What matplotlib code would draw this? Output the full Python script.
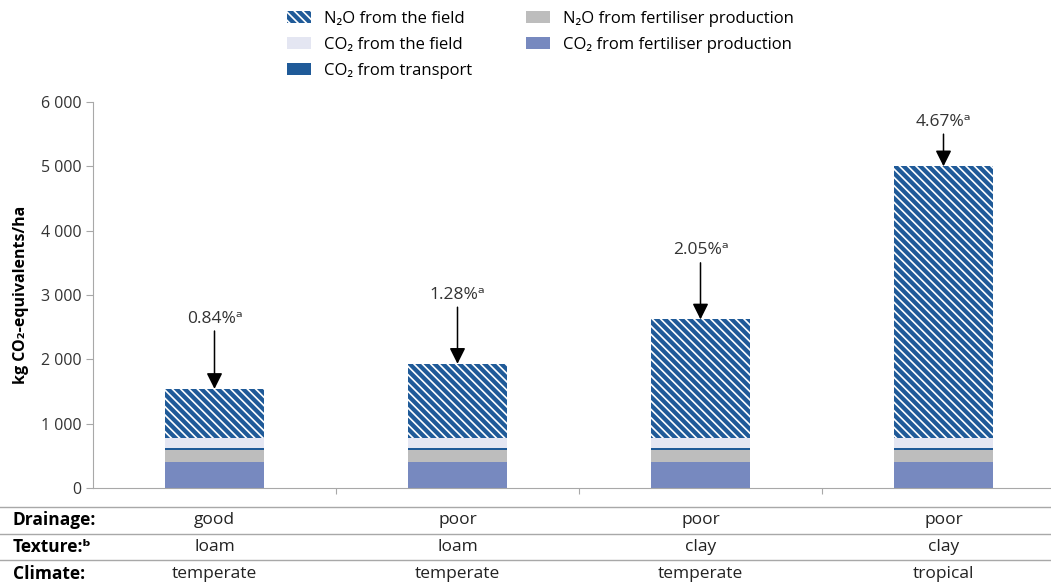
import matplotlib
matplotlib.use("Agg")
import matplotlib.pyplot as plt
import matplotlib.transforms as mtransforms
import numpy as np

# --- data ---
co2_fert = [400, 400, 400, 400]
n2o_fert = [190, 190, 190, 190]
co2_transport = [30, 30, 30, 30]
co2_field = [150, 150, 150, 150]
n2o_field = [770, 1160, 1850, 4230]
pct_labels = ["0.84%ᵃ", "1.28%ᵃ", "2.05%ᵃ", "4.67%ᵃ"]
drainage = ["good", "poor", "poor", "poor"]
texture = ["loam", "loam", "clay", "clay"]
climate = ["temperate", "temperate", "temperate", "tropical"]
yticks = [0, 1000, 2000, 3000, 4000, 5000, 6000]

plt.rcParams['font.family'] = ['Open Sans', 'DejaVu Sans']
plt.rcParams['font.size'] = 11
plt.rcParams['hatch.linewidth'] = 1.2

c_co2_fert = '#7789bf'
c_n2o_fert = '#bdbdbd'
c_transport = '#1f5a98'
c_co2_field = '#e4e6f2'
c_n2o_field = '#1f5a98'
grey = '#a8a8a8'

fig = plt.figure(figsize=(10.51, 5.85), dpi=100)
ax = fig.add_axes([93 / 1051, 1 - 488 / 585, 1 - 93 / 1051, (488 - 102) / 585])

x = np.arange(len(n2o_field))
w = 0.41
b = np.zeros(len(x))
ax.bar(x, co2_fert, w, bottom=b, color=c_co2_fert, label='CO₂ from fertiliser production')
b += co2_fert
ax.bar(x, n2o_fert, w, bottom=b, color=c_n2o_fert, label='N₂O from fertiliser production')
b += n2o_fert
ax.bar(x, co2_transport, w, bottom=b, color=c_transport, label='CO₂ from transport')
b += co2_transport
ax.bar(x, co2_field, w, bottom=b, color=c_co2_field, label='CO₂ from the field')
b += co2_field
ax.bar(x, n2o_field, w, bottom=b, facecolor=c_n2o_field, hatch='\\\\\\\\', edgecolor='white',
       linewidth=0, label='N₂O from the field')
totals = b + n2o_field

# arrows + percentages
arrow_len = [900, 880, 880, 500]
for i, t in enumerate(totals):
    start = t + arrow_len[i]
    ax.annotate('', xy=(i, t), xytext=(i, start),
                arrowprops=dict(arrowstyle='-|>', color='black', lw=1.1, mutation_scale=24,
                                shrinkA=0, shrinkB=0))
    ax.text(i, start + 70, pct_labels[i], ha='center', va='bottom', fontsize=12.5, color='#333333')

ax.set_xlim(-0.5, 3.5 - 14 / 243)
ax.set_ylim(0, 6000)
ax.set_yticks(yticks)
ax.set_yticklabels([f"{v:,}".replace(",", " ") for v in yticks])
ax.set_xticks([0.5, 1.5, 2.5])
ax.set_xticklabels([])
ax.tick_params(axis='x', length=4, color=grey)
ax.tick_params(axis='y', length=5, color=grey, labelcolor='#333333', labelsize=11.5)
for s in ['top', 'right']:
    ax.spines[s].set_visible(False)
ax.spines['left'].set_color(grey)
ax.spines['bottom'].set_color(grey)
ax.set_ylabel('kg CO₂-equivalents/ha', fontweight='bold', fontsize=11.5, labelpad=8)

# legend at top
handles, labels = ax.get_legend_handles_labels()
order = [4, 3, 2, 1, 0]
fig.legend([handles[k] for k in order], [labels[k] for k in order],
           loc='upper left', bbox_to_anchor=(276 / 1051, 1.0), ncol=2, frameon=False,
           fontsize=12, handlelength=1.45, handleheight=0.75, handletextpad=0.8,
           columnspacing=3.2, labelspacing=0.6, borderaxespad=0.25)

# table below axis
trans = mtransforms.blended_transform_factory(ax.transData, fig.transFigure)
for yy in [507, 534, 560]:
    fig.add_artist(plt.Line2D([0, 1], [1 - yy / 585] * 2, color=grey, lw=1, transform=fig.transFigure))
rows = [("Drainage:", drainage, 520), ("Texture:ᵇ", texture, 547), ("Climate:", climate, 574)]
for name, vals, yy in rows:
    fy = 1 - yy / 585
    fig.text(13 / 1051, fy, name, fontweight='bold', ha='left', va='center', fontsize=12.5)
    for i, v in enumerate(vals):
        ax.text(i, fy, v, transform=trans, ha='center', va='center', fontsize=12.5, color='#222222')

fig.savefig('out.png', dpi=100)
